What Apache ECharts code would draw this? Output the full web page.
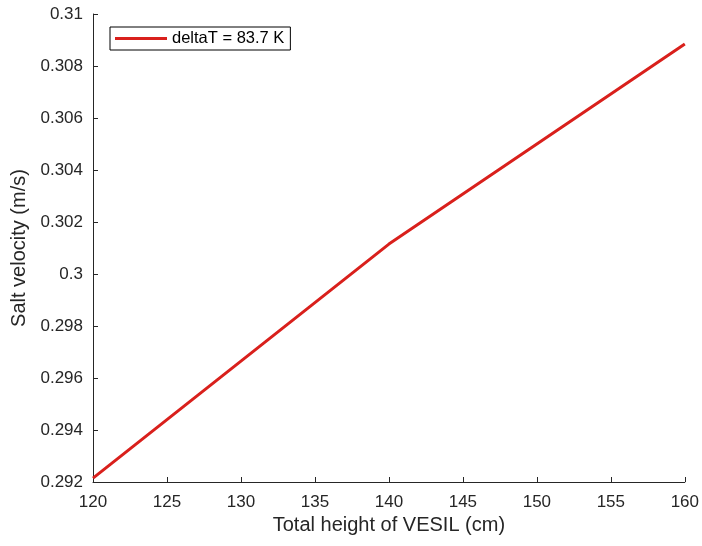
<!DOCTYPE html>
<html>
<head>
<meta charset="utf-8" />
<title>Salt velocity</title>
<script src="https://cdn.jsdelivr.net/npm/echarts@6/dist/echarts.min.js"></script>
<style>
  html, body { margin: 0; padding: 0; background: #fff; }
  #main { width: 702px; height: 546px; }
</style>
</head>
<body>
<div id="main"></div>
<script>
// data
var heights = [120, 140, 160];
var velocity = [0.29215, 0.30115, 0.30885];
var seriesName = 'deltaT = 83.7 K';

var chart = echarts.init(document.getElementById('main'));
var txt = '#262626';
chart.setOption({
  animation: false,
  backgroundColor: '#fff',
  textStyle: { fontFamily: 'Liberation Sans, Arial, sans-serif' },
  grid: { left: 93, right: 16, top: 14, bottom: 64 },
  legend: {
    left: 110, top: 27,
    data: [seriesName],
    icon: 'rect',
    itemWidth: 52, itemHeight: 3,
    itemGap: 4,
    padding: [3, 6, 3, 5],
    borderColor: '#000', borderWidth: 1,
    textStyle: { color: '#000', fontSize: 16.5, padding: [0, 0, 0, 0] }
  },
  xAxis: {
    type: 'value', min: 120, max: 160, interval: 5,
    name: 'Total height of VESIL (cm)',
    nameLocation: 'middle', nameGap: 32,
    nameTextStyle: { color: txt, fontSize: 20 },
    axisLine: { lineStyle: { color: '#262626' } },
    axisTick: { inside: true, length: 5, lineStyle: { color: '#262626' } },
    axisLabel: { color: txt, fontSize: 17, margin: 12 },
    splitLine: { show: false }
  },
  yAxis: {
    type: 'value', min: 0.292, max: 0.31, interval: 0.002,
    name: 'Salt velocity (m/s)',
    nameLocation: 'middle', nameGap: 63,
    nameTextStyle: { color: txt, fontSize: 20 },
    axisLine: { show: true, lineStyle: { color: '#262626' } },
    axisTick: { show: true, inside: true, length: 5, lineStyle: { color: '#262626' } },
    axisLabel: {
      color: txt, fontSize: 17, margin: 10,
      formatter: function (v) { return String(parseFloat(v.toFixed(3))); }
    },
    splitLine: { show: false }
  },
  series: [{
    name: seriesName,
    type: 'line',
    data: heights.map(function (h, i) { return [h, velocity[i]]; }),
    showSymbol: false,
    lineStyle: { color: '#d9201c', width: 3 },
    itemStyle: { color: '#d9201c' }
  }]
});
</script>
</body>
</html>
